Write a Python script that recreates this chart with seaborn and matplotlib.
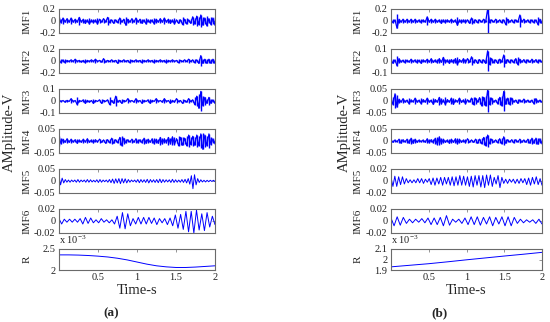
import numpy as np
import matplotlib
matplotlib.use("Agg")
import matplotlib.pyplot as plt
import seaborn as sns

# ---- data (envelope of each IMF swing, signed alternately) ----
IMF1_A = [0.06, 0.03, 0.05, 0.02, 0.04, 0.02, 0.05, 0.02, 0.03, 0.02, 0.06, 0.02, 0.03, 0.04, 0.02, 0.05, 0.02, 0.03, 0.02, 0.05,
          0.03, 0.02, 0.04, 0.02, 0.06, 0.03, 0.02, 0.04, 0.02, 0.03, 0.05, 0.02, 0.03, 0.07, 0.03, 0.02, 0.04, 0.02, 0.05, 0.02,
          0.03, 0.04, 0.02, 0.05, 0.02, 0.03, 0.02, 0.05, 0.03, 0.02, 0.04, 0.02, 0.05, 0.02, 0.03, 0.04, 0.02, 0.05, 0.02, 0.04,
          0.02, 0.06, 0.03, 0.05, 0.02, 0.04, 0.07, 0.05, 0.08, 0.06, 0.10, 0.07, 0.05, 0.08, 0.04, 0.06, 0.05, 0.07]
IMF2_A = [0.02, 0.03, 0.02, 0.03, 0.01, 0.01, 0.02, 0.01, 0.03, 0.01, 0.01, 0.02, 0.01, 0.03, 0.01, 0.01, 0.02, 0.01, 0.03, 0.01,
          0.01, 0.02, 0.04, 0.02, 0.01, 0.01, 0.02, 0.01, 0.01, 0.04, 0.01, 0.01, 0.02, 0.01, 0.01, 0.03, 0.01, 0.01, 0.02, 0.01,
          0.01, 0.03, 0.01, 0.01, 0.02, 0.01, 0.01, 0.03, 0.01, 0.01, 0.02, 0.01, 0.01, 0.03, 0.01, 0.01, 0.02, 0.01, 0.01, 0.03,
          0.01, 0.01, 0.02, 0.01, 0.03, 0.01, 0.02, 0.03, 0.02, 0.04, 0.09, 0.04, 0.03, 0.04, 0.03, 0.04, 0.03, 0.04]
IMF3_A = [0.01, 0.005, 0.004, 0.01, 0.005, 0.004, 0.02, 0.005, 0.004, 0.03, 0.005, 0.004, 0.01, 0.02, 0.005, 0.01, 0.004, 0.02, 0.005, 0.004,
          0.01, 0.02, 0.005, 0.004, 0.01, 0.03, 0.005, 0.02, 0.04, 0.01, 0.005, 0.02, 0.005, 0.004, 0.02, 0.005, 0.004, 0.01, 0.02, 0.005,
          0.004, 0.02, 0.005, 0.004, 0.01, 0.02, 0.005, 0.004, 0.02, 0.005, 0.004, 0.01, 0.02, 0.005, 0.004, 0.02, 0.005, 0.01, 0.02, 0.005,
          0.004, 0.02, 0.005, 0.01, 0.02, 0.005, 0.01, 0.03, 0.04, 0.06, 0.08, 0.04, 0.03, 0.02, 0.03, 0.02, 0.01, 0.02]
IMF4_A = [0.02, 0.012, 0.008, 0.006, 0.01, 0.006, 0.008, 0.005, 0.006, 0.01, 0.005, 0.006, 0.008, 0.005, 0.01, 0.006, 0.005, 0.008, 0.006, 0.005,
          0.008, 0.006, 0.005, 0.01, 0.006, 0.008, 0.012, 0.01, 0.006, 0.008, 0.015, 0.02, 0.012, 0.008, 0.006, 0.005, 0.008, 0.006, 0.01, 0.008,
          0.006, 0.008, 0.012, 0.01, 0.008, 0.006, 0.01, 0.012, 0.008, 0.01, 0.015, 0.012, 0.01, 0.008, 0.015, 0.012, 0.018, 0.015, 0.01, 0.02,
          0.015, 0.018, 0.012, 0.02, 0.025, 0.015, 0.02, 0.018, 0.025, 0.02, 0.03, 0.035, 0.025, 0.02, 0.03, 0.015, 0.01, 0.012]
IMF5_A = [0.02, 0.016, 0.012, 0.008, 0.006, 0.005, 0.004, 0.005, 0.004, 0.003,
          0.004, 0.005, 0.006, 0.005, 0.004, 0.003, 0.004, 0.005, 0.006, 0.005,
          0.005, 0.004, 0.003, 0.004, 0.005, 0.006, 0.006, 0.005, 0.004, 0.003,
          0.004, 0.005, 0.006, 0.007, 0.008, 0.01, 0.009, 0.008, 0.01, 0.011,
          0.01, 0.008, 0.009, 0.008, 0.006, 0.005, 0.004, 0.003, 0.004, 0.005,
          0.006, 0.007, 0.006, 0.005, 0.005, 0.006, 0.007, 0.008, 0.006, 0.005,
          0.005, 0.006, 0.006, 0.007, 0.008, 0.007, 0.006, 0.005, 0.005, 0.004,
          0.005, 0.006, 0.007, 0.006, 0.005, 0.005, 0.004, 0.005, 0.006, 0.006,
          0.007, 0.008, 0.01, 0.013, 0.022, 0.032, 0.026, 0.016, 0.01, 0.006,
          0.005, 0.004, 0.003, 0.004, 0.003, 0.003, 0.003, 0.002, 0.003, 0.002]
IMF6_A = [0.004, 0.005, 0.003, 0.002, 0.003, 0.002, 0.003, 0.002, 0.004, 0.005,
          0.006, 0.004, 0.005, 0.003, 0.002, 0.003, 0.004, 0.002, 0.002, 0.003,
          0.002, 0.005, 0.008, 0.012, 0.014, 0.013, 0.012, 0.008, 0.004, 0.005,
          0.006, 0.005, 0.006, 0.005, 0.006, 0.004, 0.005, 0.006, 0.004, 0.003,
          0.004, 0.006, 0.005, 0.008, 0.01, 0.012, 0.011, 0.014, 0.016, 0.018,
          0.016, 0.02, 0.018, 0.015, 0.012, 0.016, 0.014, 0.01, 0.008, 0.006]
R_A = [2.36, 2.36, 2.355, 2.345, 2.33, 2.31, 2.28, 2.24, 2.19, 2.14, 2.10, 2.075, 2.06, 2.06, 2.07, 2.085, 2.10]  # x 1e-3

IMF1_B = [0.02, 0.03, 0.02, 0.12, 0.03, 0.02, 0.03, 0.02, 0.03, 0.02,
          0.03, 0.02, 0.03, 0.02, 0.02, 0.03, 0.02, 0.02, 0.07, 0.02,
          0.03, 0.02, 0.03, 0.02, 0.02, 0.04, 0.02, 0.03, 0.02, 0.02,
          0.03, 0.02, 0.02, 0.07, 0.02, 0.03, 0.02, 0.03, 0.02, 0.04,
          0.05, 0.03, 0.02, 0.03, 0.02, 0.02, 0.03, 0.02, 0.20, 0.03,
          0.02, 0.02, 0.03, 0.02, 0.02, 0.03, 0.02, 0.06, 0.03, 0.02,
          0.02, 0.03, 0.02, 0.02, 0.10, 0.02, 0.03, 0.02, 0.02, 0.03,
          0.02, 0.03, 0.02, 0.06, 0.03, 0.04]
IMF2_B = [0.01, 0.02, 0.01, 0.04, 0.02, 0.01, 0.008, 0.015, 0.008, 0.01,
          0.015, 0.008, 0.01, 0.015, 0.008, 0.02, 0.01, 0.008, 0.015, 0.01,
          0.02, 0.012, 0.01, 0.015, 0.02, 0.012, 0.03, 0.015, 0.01, 0.02,
          0.012, 0.015, 0.02, 0.03, 0.012, 0.01, 0.02, 0.015, 0.02, 0.012,
          0.035, 0.015, 0.01, 0.02, 0.012, 0.015, 0.01, 0.02, 0.085, 0.03,
          0.02, 0.015, 0.01, 0.02, 0.015, 0.01, 0.05, 0.02, 0.012, 0.015,
          0.01, 0.015, 0.02, 0.03, 0.015, 0.01, 0.012, 0.015, 0.01, 0.012,
          0.015, 0.01, 0.012, 0.015, 0.01, 0.012]
IMF3_B = [0.01, 0.015, 0.03, 0.025, 0.008, 0.005, 0.01, 0.005, 0.004, 0.012,
          0.005, 0.004, 0.012, 0.005, 0.004, 0.012, 0.006, 0.005, 0.012, 0.005,
          0.004, 0.014, 0.006, 0.005, 0.015, 0.012, 0.005, 0.015, 0.006, 0.005,
          0.012, 0.014, 0.005, 0.004, 0.012, 0.006, 0.005, 0.012, 0.005, 0.004,
          0.012, 0.015, 0.012, 0.005, 0.014, 0.02, 0.015, 0.02, 0.045, 0.015,
          0.012, 0.005, 0.004, 0.012, 0.015, 0.02, 0.04, 0.014, 0.012, 0.015,
          0.012, 0.005, 0.004, 0.01, 0.005, 0.004, 0.008, 0.005, 0.004, 0.006,
          0.004, 0.012, 0.01, 0.005, 0.004, 0.006]
IMF4_B = [0.005, 0.006, 0.005, 0.004, 0.008, 0.01, 0.006, 0.005, 0.008, 0.01,
          0.012, 0.01, 0.008, 0.006, 0.005, 0.004, 0.005, 0.006, 0.01, 0.008,
          0.006, 0.008, 0.012, 0.015, 0.018, 0.012, 0.008, 0.006, 0.005, 0.01,
          0.008, 0.006, 0.01, 0.012, 0.008, 0.006, 0.005, 0.008, 0.01, 0.006,
          0.005, 0.006, 0.008, 0.01, 0.008, 0.012, 0.015, 0.02, 0.025, 0.012,
          0.008, 0.006, 0.005, 0.008, 0.01, 0.012, 0.018, 0.01, 0.006, 0.005,
          0.006, 0.008, 0.006, 0.005, 0.008, 0.006, 0.005, 0.006, 0.008, 0.01,
          0.012, 0.01, 0.012, 0.014, 0.01, 0.012]
IMF5_B = [0.006, 0.009, 0.008, 0.009, 0.007, 0.006, 0.007, 0.005, 0.004, 0.003,
          0.002, 0.003, 0.002, 0.003, 0.004, 0.003, 0.004, 0.004, 0.003, 0.002,
          0.004, 0.006, 0.005, 0.007, 0.005, 0.005, 0.006, 0.007, 0.006, 0.005,
          0.006, 0.007, 0.007, 0.008, 0.007, 0.007, 0.009, 0.007, 0.008, 0.007,
          0.007, 0.009, 0.008, 0.01, 0.009, 0.007, 0.009, 0.01, 0.009, 0.011,
          0.01, 0.007, 0.01, 0.009, 0.006, 0.005, 0.009, 0.011, 0.006, 0.004,
          0.003, 0.004, 0.003, 0.002, 0.003, 0.004, 0.003, 0.004, 0.004, 0.003,
          0.004, 0.006, 0.005, 0.007, 0.006, 0.005, 0.007, 0.006, 0.004, 0.007]
IMF6_B = [0.005, 0.008, 0.007, 0.007, 0.006, 0.004, 0.003, 0.003, 0.003, 0.002,
          0.004, 0.003, 0.005, 0.006, 0.005, 0.006, 0.006, 0.008, 0.009, 0.007,
          0.003, 0.002, 0.003, 0.004, 0.005, 0.006, 0.007, 0.006, 0.007, 0.007,
          0.006, 0.005, 0.007, 0.008, 0.006, 0.005, 0.007, 0.008, 0.007, 0.008,
          0.006, 0.004, 0.003, 0.003, 0.002, 0.002, 0.002, 0.004, 0.003, 0.005]
R_B = [1.93, 1.945, 1.96, 1.978, 1.997, 2.015, 2.033, 2.05, 2.068]  # x 1e-3

IMF_NAMES = ["IMF1", "IMF2", "IMF3", "IMF4", "IMF5", "IMF6"]
LIMS_A = [0.2, 0.2, 0.1, 0.05, 0.05, 0.02]
LIMS_B = [0.2, 0.1, 0.05, 0.05, 0.02, 0.02]
R_TICKS_A = [2, 2.5]
R_TICKS_B = [1.9, 2, 2.1]
X_TICKS = [0.5, 1, 1.5, 2]

sns.set_theme(style="white")
plt.rcParams["font.family"] = ["Liberation Serif", "DejaVu Serif"]
plt.rcParams["mathtext.fontset"] = "custom"
plt.rcParams["mathtext.rm"] = "Liberation Serif"
plt.rcParams["mathtext.it"] = "Liberation Serif"

W, H = 550, 322
fig = plt.figure(figsize=(W / 100, H / 100), dpi=100)
BLUE = "#0000ff"
EDGE = "#6a6a6a"
LINE_W = [0.9, 0.9, 0.9, 0.8, 0.7, 0.7]


def px_axes(x0, x1, top, h):
    return fig.add_axes([x0 / W, 1 - (top + h) / H, (x1 - x0) / W, h / H])


def style(ax):
    for s in ax.spines.values():
        s.set_color(EDGE)
        s.set_linewidth(0.8)
    ax.tick_params(direction="in", length=2, width=0.5, color=EDGE, top=True, right=True,
                   labelsize=7.5, pad=2.5, labelcolor="#222222")
    ax.set_xlim(0, 2)
    ax.set_xticks(X_TICKS)


def swing(env):
    env = np.asarray(env)
    sign = np.where(np.arange(len(env)) % 2 == 0, 1, -1)
    return np.linspace(0, 2, len(env)), env * sign


def panel(x0, x1, imfs, lims, r_vals, r_ticks, lab_x, amp_x, tag, tag_x):
    for k, (vals, lim, name) in enumerate(zip(imfs, lims, IMF_NAMES)):
        ax = px_axes(x0, x1, 9 + 40 * k, 24)
        t, y = swing(vals)
        if k < 4:
            # dense high-frequency modes read as a solid band at this scale
            ax.vlines(t, -np.asarray(vals), np.asarray(vals), color=BLUE, lw=1.0)
        sns.lineplot(x=t, y=y, ax=ax, color=BLUE, lw=LINE_W[k])
        ax.set_ylim(-lim, lim)
        ax.set_yticks([lim, 0, -lim])
        ax.set_yticklabels([f"{lim:g}", "0", f"{-lim:g}"])
        ax.set_xticklabels([])
        ax.set_xlabel("")
        style(ax)
        fig.text(lab_x / W, 1 - (9 + 40 * k + 12) / H, name, rotation=90,
                 ha="center", va="center", fontsize=8)
    ax = px_axes(x0, x1, 249, 21)
    sns.lineplot(x=np.linspace(0, 2, len(r_vals)), y=r_vals, ax=ax, color=BLUE, lw=0.7)
    ax.set_ylim(r_ticks[0], r_ticks[-1])
    ax.set_yticks(r_ticks)
    ax.set_yticklabels([f"{v:g}" for v in r_ticks])
    style(ax)
    ax.set_xticklabels([f"{v:g}" for v in X_TICKS])
    ax.set_xlabel("Time-s", fontsize=10.5, labelpad=1)
    ax.text(0, 1.12, r"x 10$^{-3}$", transform=ax.transAxes, ha="left", va="bottom",
            fontsize=7.5, color="#222222")
    fig.text(lab_x / W, 1 - 259 / H, "R", rotation=90, ha="center", va="center", fontsize=8)
    fig.text(amp_x / W, 1 - 132 / H, "AMplitude-V", rotation=90, ha="center", va="center",
             fontsize=10.5)
    fig.text(tag_x / W, 1 - 313 / H, tag, ha="center", va="center", fontsize=9.5,
             fontweight="bold")


panel(59, 215, [IMF1_A, IMF2_A, IMF3_A, IMF4_A, IMF5_A, IMF6_A], LIMS_A, R_A, R_TICKS_A,
      27, 9, "(a)", 111)
panel(391, 542, [IMF1_B, IMF2_B, IMF3_B, IMF4_B, IMF5_B, IMF6_B], LIMS_B, R_B, R_TICKS_B,
      358, 344, "(b)", 440)

fig.savefig("out.png", dpi=100, facecolor="white")
